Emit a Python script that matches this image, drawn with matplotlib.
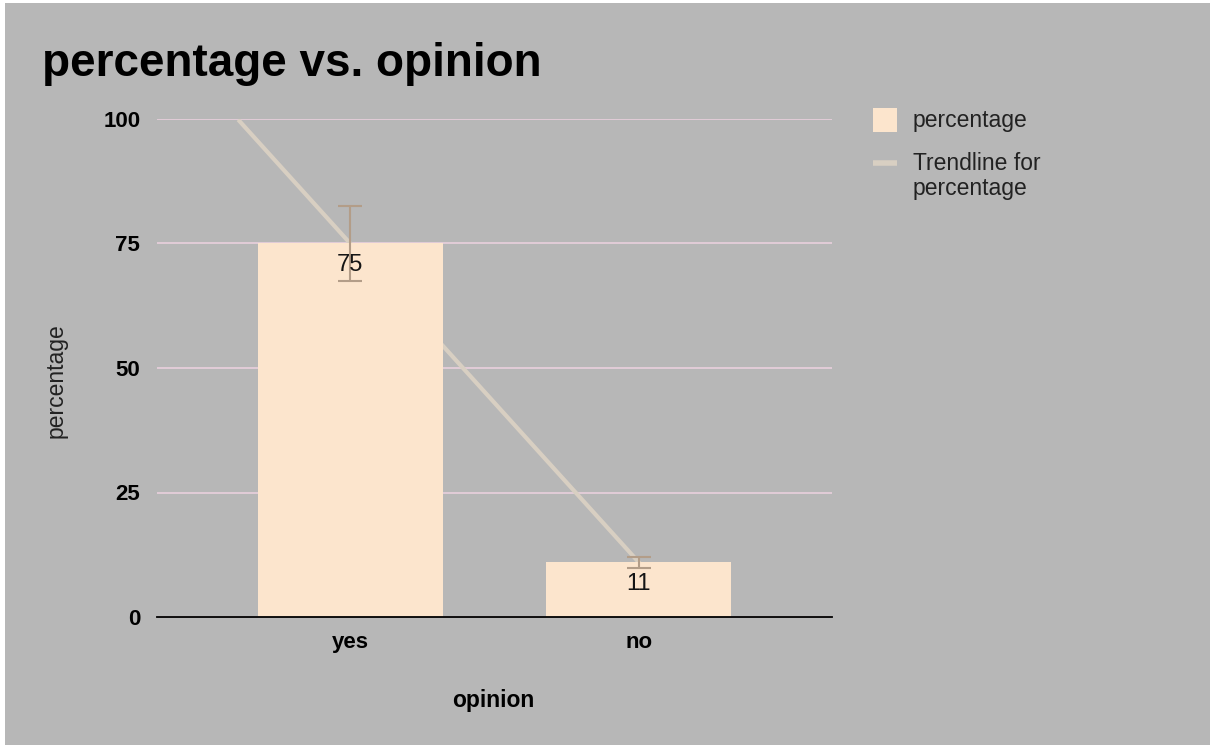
import matplotlib
matplotlib.use("Agg")
import matplotlib.pyplot as plt
import numpy as np
from matplotlib.patches import Rectangle
from matplotlib.lines import Line2D

categories = ["yes", "no"]
percentage = [75, 11]
error_fraction = 0.10
yticks = [0, 25, 50, 75, 100]

bg = "#b7b7b7"
bar_color = "#fce5cd"
trend_color = "#d8cfc2"
err_color = "#b39d88"
grid_color = "#e9d0dd"
W, H = 1215, 748

plt.rcParams["font.family"] = ["Liberation Sans", "DejaVu Sans"]

fig = plt.figure(figsize=(W / 100, H / 100), dpi=100)
fig.patch.set_facecolor("white")
fig.add_artist(Rectangle((5 / W, 3 / H), 1205 / W, 742 / H,
                         transform=fig.transFigure, facecolor=bg,
                         edgecolor="none", zorder=-10))

ax = fig.add_axes([157 / W, 1 - 617 / H, 675 / W, 498 / H])
ax.set_facecolor(bg)
x = np.arange(len(categories))
ax.bar(x, percentage, width=0.643, color=bar_color, zorder=2)

errs = [v * error_fraction for v in percentage]
ax.errorbar(x, percentage, yerr=errs, fmt="none", ecolor=err_color,
            elinewidth=1.5, capsize=8.6, capthick=1.5, zorder=4)

# linear trendline fitted through the bar values, drawn behind the bars
coef = np.polyfit(x, percentage, 1)
xt = np.linspace(-0.67, 1.67, 400)
yt = np.polyval(coef, xt)
mask = (yt >= 0) & (yt <= 100)
ax.plot(xt[mask], yt[mask], color=trend_color, lw=3, zorder=1.5,
        solid_capstyle="butt")

for xi, v in zip(x, percentage):
    ax.text(xi, v - 4.3, f"{v}", ha="center", va="center",
            fontsize=17, color="#151515", zorder=5)

ax.set_xlim(-0.67, 1.67)
ax.set_ylim(0, 100)
ax.set_yticks(yticks)
ax.set_yticklabels([str(t) for t in yticks], fontsize=16, fontweight="bold")
ax.set_xticks(x)
ax.set_xticklabels(categories, fontsize=16, fontweight="bold")
ax.tick_params(axis="x", length=0, pad=11)
ax.tick_params(axis="y", length=0, pad=12)
ax.grid(axis="y", color=grid_color, lw=1.2, zorder=0)
for s in ["top", "right", "left"]:
    ax.spines[s].set_visible(False)
ax.spines["bottom"].set_color("black")
ax.spines["bottom"].set_linewidth(1.3)
ax.spines["bottom"].set_zorder(6)
ax.set_axisbelow(True)

fig.text(493 / W, 1 - 701 / H, "opinion", fontsize=16.5, fontweight="bold",
         ha="center", va="center", color="black")
fig.text(56 / W, 1 - 381 / H, "percentage", rotation=90, fontsize=16.5,
         ha="center", va="center", color="#222222")

fig.text(42 / W, 1 - 76 / H, "percentage vs. opinion", fontsize=33,
         fontweight="bold", ha="left", va="baseline", color="black")

# legend
fig.add_artist(Rectangle((873 / W, 1 - 132 / H), 24 / W, 24 / H,
                         transform=fig.transFigure, facecolor=bar_color,
                         edgecolor="none"))
fig.add_artist(Line2D([873 / W, 897 / W], [1 - 163 / H, 1 - 163 / H],
                      transform=fig.transFigure, color=trend_color, lw=4,
                      solid_capstyle="butt"))
fig.text(913 / W, 1 - 120 / H, "percentage", fontsize=16.5,
         ha="left", va="center", color="#222222")
fig.text(913 / W, 1 - 163 / H, "Trendline for", fontsize=16.5,
         ha="left", va="center", color="#222222")
fig.text(913 / W, 1 - 188 / H, "percentage", fontsize=16.5,
         ha="left", va="center", color="#222222")

fig.savefig("out.png", dpi=100, facecolor=fig.get_facecolor())
